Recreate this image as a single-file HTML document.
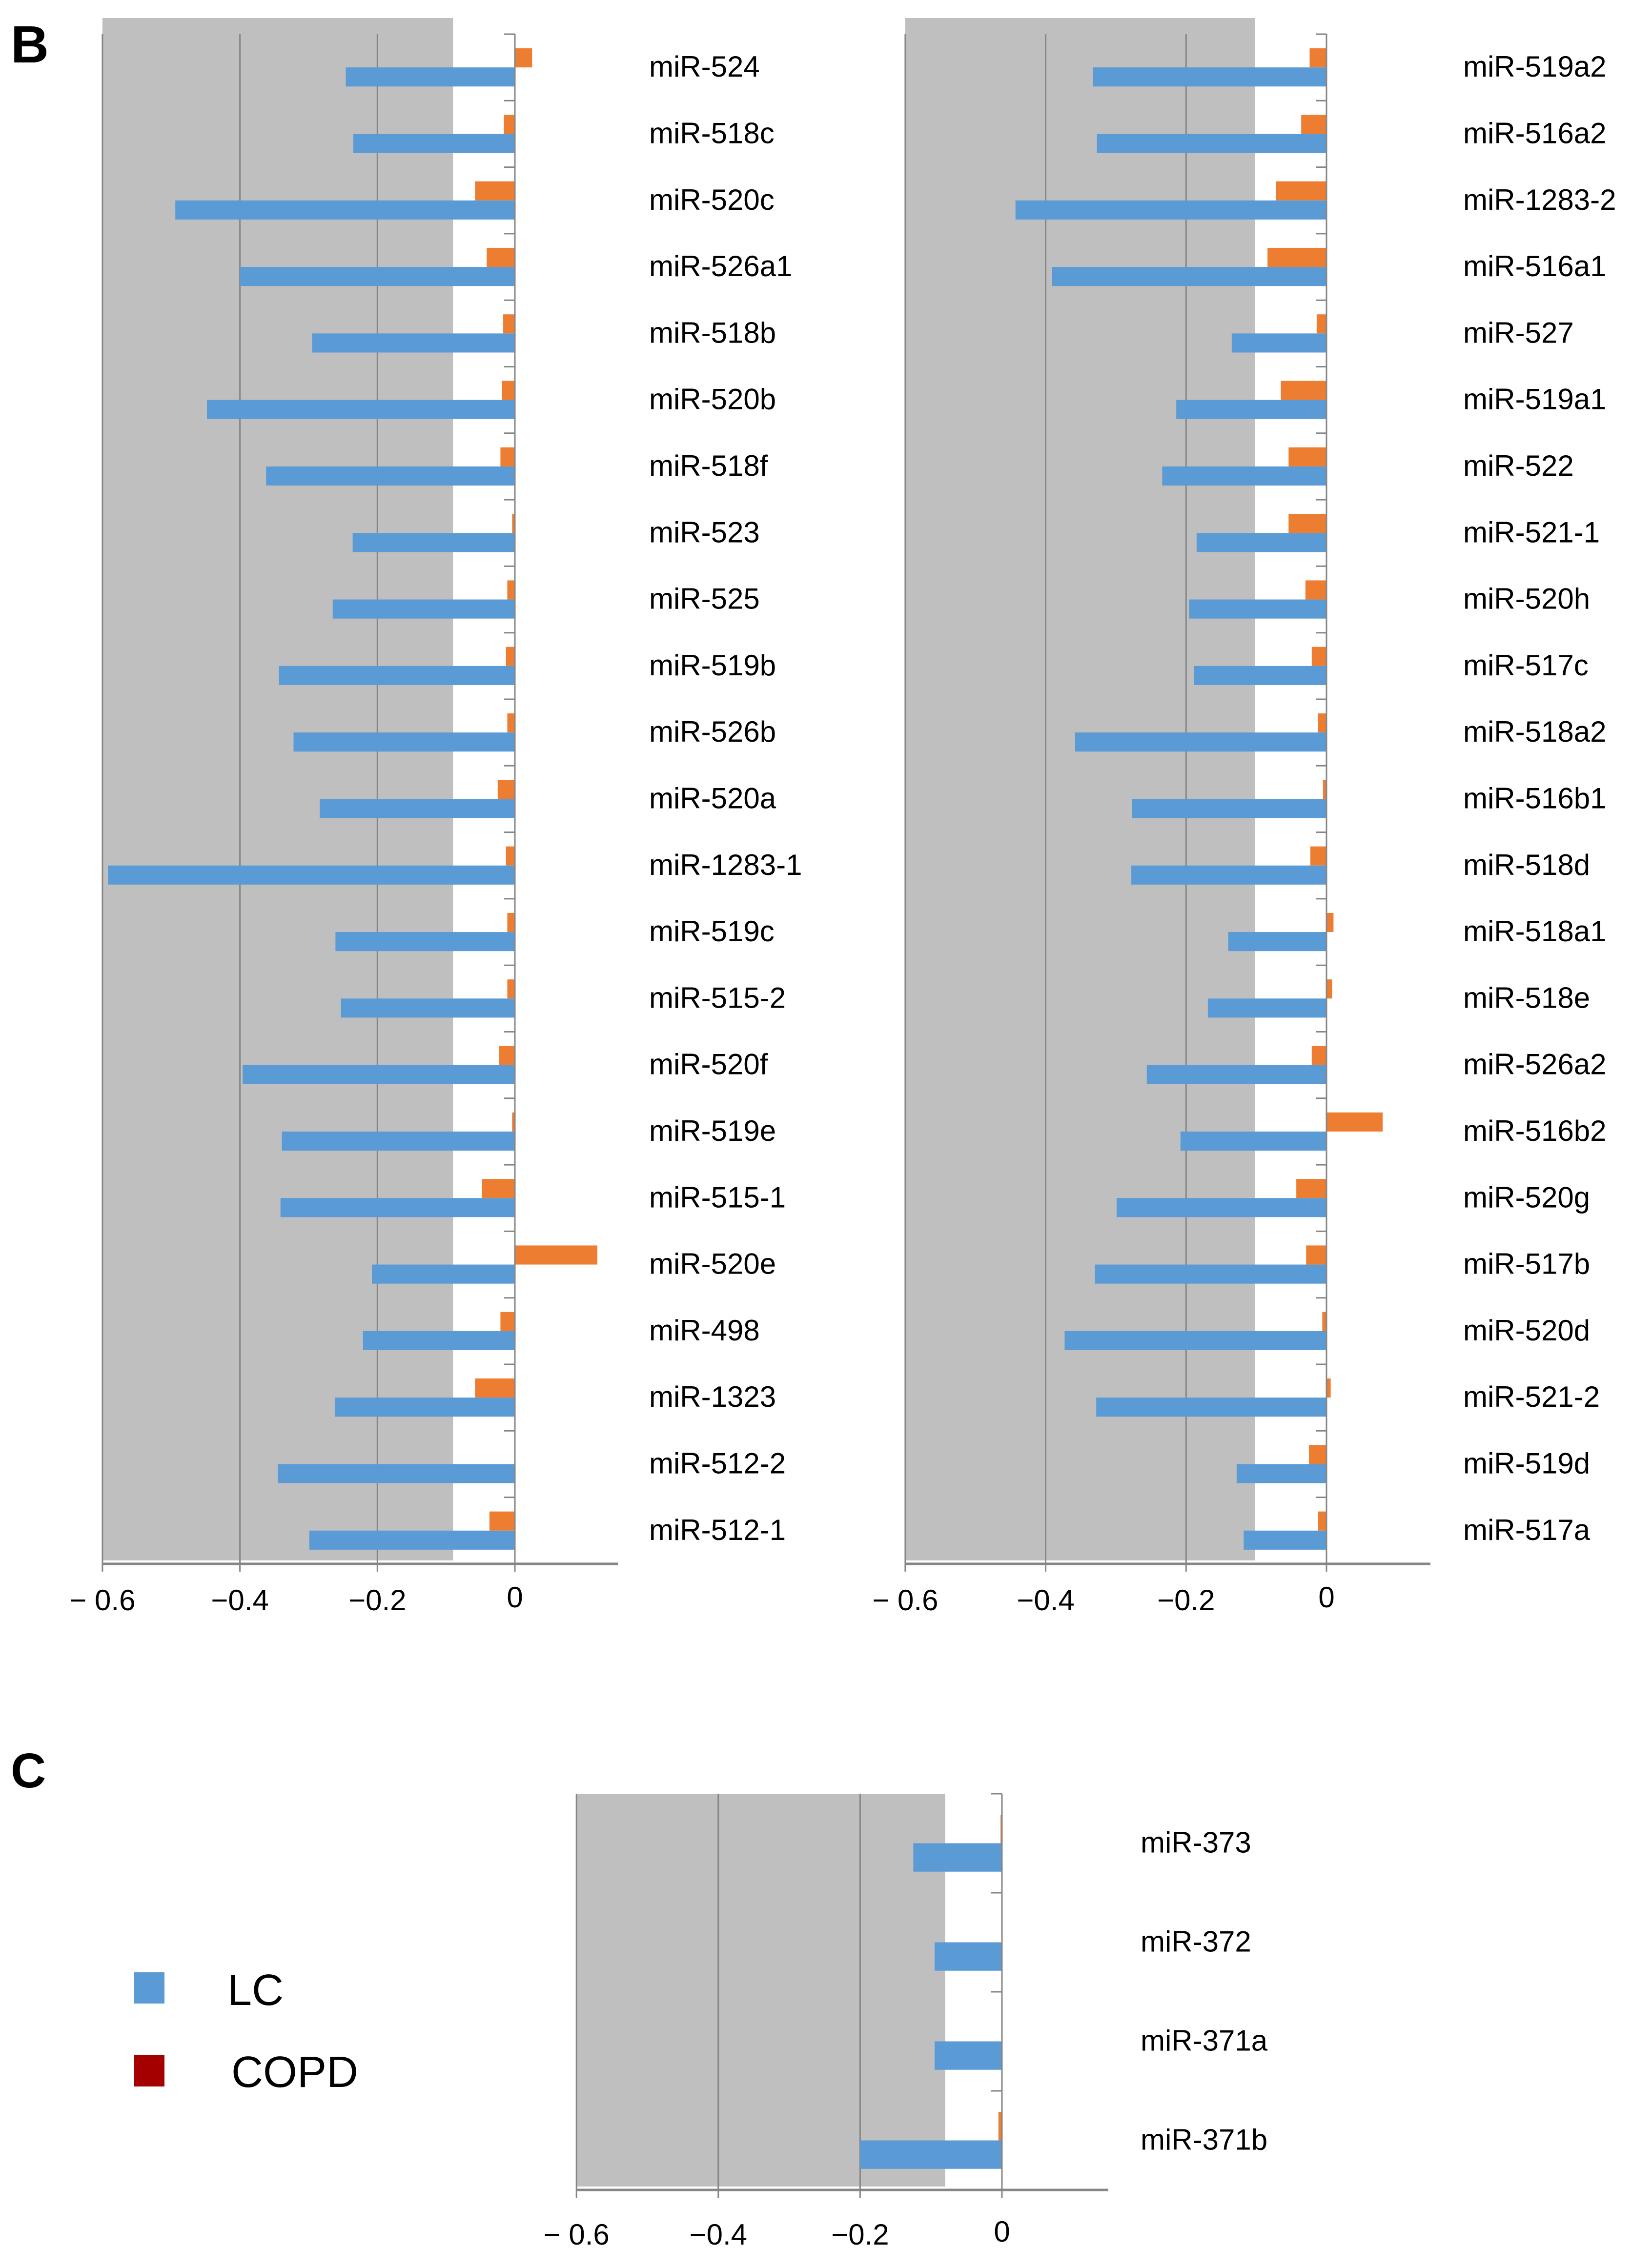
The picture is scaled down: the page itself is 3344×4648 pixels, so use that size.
<!DOCTYPE html>
<html><head><meta charset="utf-8">
<style>
html,body{margin:0;padding:0;background:#fff;}
svg{display:block;}
text{font-family:"Liberation Sans",sans-serif;fill:#000;}
</style></head>
<body>
<svg id="fig" width="3344" height="4648" viewBox="0 0 3344 4648" xmlns="http://www.w3.org/2000/svg">
<text x="22" y="128" font-size="108" font-weight="bold">B</text>
<text x="22" y="3663" font-size="100" font-weight="bold">C</text>
<g>
  <rect x="275" y="4042" width="62" height="64" fill="#5B9BD5"/>
  <text x="466" y="4109" font-size="90">LC</text>
  <rect x="275" y="4212" width="62" height="64" fill="#A50000"/>
  <text x="474" y="4277" font-size="90">COPD</text>
</g>
</svg>
<script>
const tickValues = [-0.6, -0.4, -0.2, 0];
const tickLabels = ["\u2212 0.6", "\u22120.4", "\u22120.2", "0"];

const catsB1 = ["miR-524","miR-518c","miR-520c","miR-526a1","miR-518b","miR-520b","miR-518f","miR-523","miR-525","miR-519b","miR-526b","miR-520a","miR-1283-1","miR-519c","miR-515-2","miR-520f","miR-519e","miR-515-1","miR-520e","miR-498","miR-1323","miR-512-2","miR-512-1"];
const lcB1 = [-0.246,-0.235,-0.494,-0.40,-0.295,-0.448,-0.362,-0.236,-0.265,-0.343,-0.322,-0.284,-0.592,-0.261,-0.253,-0.396,-0.339,-0.341,-0.208,-0.221,-0.262,-0.345,-0.299];
const copdB1 = [0.025,-0.016,-0.058,-0.041,-0.017,-0.019,-0.021,-0.004,-0.011,-0.013,-0.011,-0.025,-0.013,-0.011,-0.011,-0.023,-0.004,-0.048,0.12,-0.021,-0.058,0,-0.037];

const catsB2 = ["miR-519a2","miR-516a2","miR-1283-2","miR-516a1","miR-527","miR-519a1","miR-522","miR-521-1","miR-520h","miR-517c","miR-518a2","miR-516b1","miR-518d","miR-518a1","miR-518e","miR-526a2","miR-516b2","miR-520g","miR-517b","miR-520d","miR-521-2","miR-519d","miR-517a"];
const lcB2 = [-0.333,-0.327,-0.443,-0.391,-0.135,-0.214,-0.234,-0.185,-0.196,-0.189,-0.358,-0.277,-0.278,-0.14,-0.169,-0.256,-0.208,-0.299,-0.33,-0.373,-0.328,-0.128,-0.118];
const copdB2 = [-0.024,-0.036,-0.072,-0.084,-0.014,-0.065,-0.054,-0.054,-0.030,-0.021,-0.012,-0.005,-0.023,0.01,0.008,-0.021,0.08,-0.043,-0.029,-0.006,0.006,-0.025,-0.012];

const catsC = ["miR-373","miR-372","miR-371a","miR-371b"];
const lcC = [-0.125,-0.095,-0.095,-0.2];
const copdC = [-0.002,0,0,-0.005];

const NS = "http://www.w3.org/2000/svg";
const svg = document.getElementById("fig");

function mk(tag, attrs, parent) {
  const el = document.createElementNS(NS, tag);
  for (const k in attrs) el.setAttribute(k, attrs[k]);
  parent.appendChild(el);
  return el;
}

function drawPanel(cfg, cats, lc, copd, prefix) {
  const g = mk("g", {}, svg);
  
  
  const xs = v => cfg.zeroX + v * cfg.pxPerUnit;
  const band = cfg.band;
  const axisY = cfg.top + band * cats.length;
  const bg = mk("rect", {x: xs(-0.6), y: cfg.grayTop, width: xs(cfg.grayEnd) - xs(-0.6), height: axisY - 7 - cfg.grayTop, fill: "#BFBFBF"}, g);
  
  
  tickValues.forEach((v, i) => {
    const ln = mk("line", {x1: xs(v), x2: xs(v), y1: cfg.top, y2: axisY + 16, stroke: "#868686", "stroke-width": 3}, g);
    
    
    const t = mk("text", {x: xs(v), y: cfg.tickY - (v === 0 ? 6 : 0), "font-size": 60, "text-anchor": "middle"}, g);
    t.textContent = tickLabels[i];
    
    
  });
  cats.forEach((c, i) => {
    const y0 = cfg.top + i * band;
    const pad = band * 0.213, bw = band * 0.287;
    const ov = copd[i];
    const ob = mk("rect", {x: Math.min(xs(0), xs(ov)), y: y0 + pad, width: Math.abs(xs(ov) - xs(0)), height: bw, fill: "#ED7D31"}, g);
    
    
    const lv = lc[i];
    const lb = mk("rect", {x: Math.min(xs(0), xs(lv)), y: y0 + pad + bw, width: Math.abs(xs(lv) - xs(0)), height: bw, fill: "#5B9BD5"}, g);
    
    
    const tk = mk("line", {x1: xs(0) - 22, x2: xs(0), y1: y0, y2: y0, stroke: "#868686", "stroke-width": 3}, g);
    
    
    const lt = mk("text", {x: cfg.labelX, y: y0 + band / 2 + 19, "font-size": 60}, g);
    lt.textContent = c;
    
    
  });
  const za = mk("line", {x1: xs(0), x2: xs(0), y1: cfg.top, y2: axisY + 16, stroke: "#868686", "stroke-width": 3}, g);
  
  
  const xa = mk("line", {x1: xs(-0.6), x2: xs(cfg.axisEnd), y1: axisY, y2: axisY, stroke: "#868686", "stroke-width": 5}, g);
  
  
}

drawPanel({zeroX: 1055, pxPerUnit: 1408.5, top: 70, band: 136.3, grayTop: 37, grayEnd: -0.09, axisEnd: 0.15, labelX: 1330, tickY: 3300}, catsB1, lcB1, copdB1, "panel-b-left");
drawPanel({zeroX: 2718, pxPerUnit: 1438.5, top: 70, band: 136.3, grayTop: 37, grayEnd: -0.102, axisEnd: 0.148, labelX: 2998, tickY: 3300}, catsB2, lcB2, copdB2, "panel-b-right");
drawPanel({zeroX: 2053, pxPerUnit: 1453, top: 3676, band: 203, grayTop: 3676, grayEnd: -0.08, axisEnd: 0.15, labelX: 2337, tickY: 4600}, catsC, lcC, copdC, "panel-c");
</script>
</body></html>
